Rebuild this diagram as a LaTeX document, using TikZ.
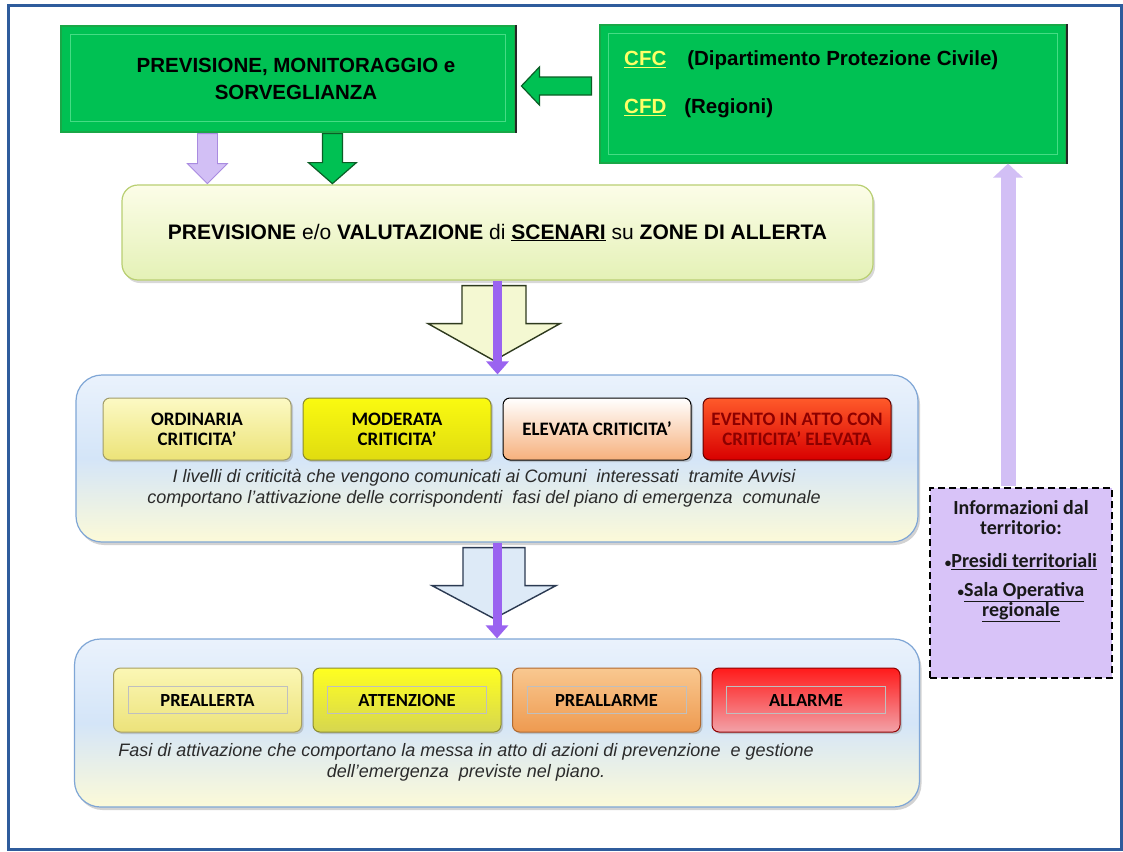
\documentclass[tikz,border=0pt]{standalone}
\usepackage{fontspec}
\setmainfont{Liberation Sans}
\newfontfamily\calib{Carlito}
\usepackage{tikz}
\usetikzlibrary{arrows.meta,positioning,calc,shadows}
\definecolor{frameblue}{HTML}{2F5C9C}
\definecolor{boxgreen}{HTML}{00C153}
\definecolor{boxgreenrim}{HTML}{19A847}
\definecolor{bevelgreen}{HTML}{45DC84}
\definecolor{darkgreen}{HTML}{0B5E26}
\definecolor{lilac}{HTML}{D2BFF5}
\definecolor{lilacdark}{HTML}{A98BE0}
\definecolor{flowpurple}{HTML}{9A63F0}
\definecolor{cfcyellow}{HTML}{FFFF66}
\definecolor{panelrim}{HTML}{7FA6D6}
\definecolor{paneltop}{HTML}{EAF2FC}
\definecolor{panelmid}{HTML}{D4E5F8}
\definecolor{panelbot}{HTML}{FCFAD8}
\definecolor{scenrim}{HTML}{B9CF72}
\definecolor{scentop}{HTML}{FCFDE8}
\definecolor{scenbot}{HTML}{E4F1B6}
\definecolor{infolilac}{HTML}{D8C3F8}
\definecolor{notegrey}{HTML}{2B2B2B}
\definecolor{hollowfillA}{HTML}{F4F8D2}
\definecolor{hollowrimA}{HTML}{2E3A1E}
\definecolor{hollowfillB}{HTML}{DDEAF7}
\definecolor{hollowrimB}{HTML}{2B3A52}
\definecolor{ordtop}{HTML}{FCF9C4}
\definecolor{ordbot}{HTML}{ECE378}
\definecolor{ordrim}{HTML}{A09C6A}
\definecolor{modtop}{HTML}{FAFA10}
\definecolor{modbot}{HTML}{E0DC10}
\definecolor{modrim}{HTML}{8A8A30}
\definecolor{elebot}{HTML}{F6B07C}
\definecolor{evetop}{HTML}{FF5A2A}
\definecolor{evebot}{HTML}{D80000}
\definecolor{everim}{HTML}{600000}
\definecolor{evetext}{HTML}{8C0000}
\definecolor{pretop}{HTML}{FBF7B5}
\definecolor{prebot}{HTML}{ECE27A}
\definecolor{prerim}{HTML}{A8A060}
\definecolor{atttop}{HTML}{FFFF20}
\definecolor{attbot}{HTML}{D6D650}
\definecolor{attrim}{HTML}{8C8C30}
\definecolor{pamtop}{HTML}{F9C890}
\definecolor{pambot}{HTML}{EE9A50}
\definecolor{pamrim}{HTML}{B06A30}
\definecolor{alltop}{HTML}{FF1A1A}
\definecolor{allbot}{HTML}{F2A2A8}
\definecolor{allrim}{HTML}{900000}
\newcommand{\downblock}[6]{\draw[#1] ($(#2)+(-#3,0)$) -- ($(#2)+(-#3,#5-#6)$) -- ($(#2)+(-#4,#5-#6)$) -- ($(#2)+(0,#5)$) -- ($(#2)+(#4,#5-#6)$) -- ($(#2)+(#3,#5-#6)$) -- ($(#2)+(#3,0)$) -- cycle;}
\newcommand{\leftblock}[6]{\draw[#1] ($(#2)+(0,-#3)$) -- ($(#2)+(-#5+#6,-#3)$) -- ($(#2)+(-#5+#6,-#4)$) -- ($(#2)+(-#5,0)$) -- ($(#2)+(-#5+#6,#4)$) -- ($(#2)+(-#5+#6,#3)$) -- ($(#2)+(0,#3)$) -- cycle;}
\newcommand{\smallbullet}{{\fontsize{13}{13}\selectfont\textbullet}}
\tikzset{outerframe/.style={draw=frameblue,line width=3pt},greenbox/.style={fill=boxgreen,draw=boxgreenrim,line width=1.2pt,inner sep=0pt},bevel/.style={draw=bevelgreen,line width=1.5pt},rimshade/.style={draw=black!85,line width=2.2pt},headfont/.style={font=\bfseries\fontsize{20.5}{27}\selectfont,inner sep=0pt},cfcfont/.style={font=\bfseries\fontsize{20.5}{24}\selectfont,inner sep=0pt},scenbox/.style={rounded corners=16pt,draw=scenrim,line width=1.2pt,top color=scentop,bottom color=scenbot,drop shadow={shadow xshift=2pt,shadow yshift=-3pt,opacity=.3},font=\fontsize{21}{24}\selectfont},panelbox/.style={rounded corners=26pt,draw=panelrim,line width=1.2pt,top color=paneltop,bottom color=panelbot,middle color=panelmid,drop shadow={shadow xshift=2pt,shadow yshift=-3pt,opacity=.35}},critbox/.style={rounded corners=7pt,minimum width=188pt,minimum height=62pt,inner sep=2pt,align=center,line width=1pt,font=\calib\bfseries\fontsize{19}{20}\selectfont,drop shadow={shadow xshift=2pt,shadow yshift=-2pt,opacity=.35}},phasebox/.style={critbox,minimum height=64pt,font=\calib\bfseries\fontsize{18.5}{20}\selectfont},innerrim/.style={draw=black!25,line width=0.8pt},notefont/.style={font=\itshape\fontsize{18}{20.5}\selectfont,text=notegrey,inner sep=0pt},hollowyellow/.style={fill=hollowfillA,draw=hollowrimA,line width=1.4pt},hollowblue/.style={fill=hollowfillB,draw=hollowrimB,line width=1.4pt},lilacarrow/.style={fill=lilac,draw=lilacdark,line width=0.8pt},greenarrow/.style={fill=boxgreen,draw=darkgreen,line width=1.2pt},flowline/.style={draw=flowpurple,line width=9pt,-{Triangle[length=13pt,width=22pt]}},uparrow/.style={draw=lilac,line width=15pt,-{Triangle[length=14pt,width=29pt]}},infobox/.style={fill=infolilac,draw=black,line width=2.2pt,dash pattern=on 7pt off 4pt},infofont/.style={font=\calib\bfseries\fontsize{20}{20}\selectfont,text=black!90,inner sep=0pt}}
\begin{document}
\begin{tikzpicture}[x=1pt,y=-1pt]
\useasboundingbox (0,0) rectangle (1123,851);
\fill[white] (0,0) rectangle (1123,851);
\draw[outerframe] (8,6) rectangle (1121,849);
% top row
\node[greenbox,minimum width=454pt,minimum height=106pt] (prevbox) at (288,79) {};
\draw[bevel] ($(prevbox.north west)+(10,9)$) rectangle ($(prevbox.south east)+(-10,-11)$);
\draw[rimshade] (prevbox.north east) -- (prevbox.south east);
\node[headfont,align=center] (prevtext) at (296,78.5) {PREVISIONE, MONITORAGGIO e\\SORVEGLIANZA};
\node[greenbox,minimum width=466pt,minimum height=138pt] (centri) at (833,94) {};
\draw[bevel] ($(centri.north west)+(9,9)$) rectangle ($(centri.south east)+(-9,-9)$);
\draw[rimshade] (centri.north east) -- (centri.south east);
\node[cfcfont,anchor=west] (cfc) at (624,60) {\textcolor{cfcyellow}{\underline{CFC}}\hspace{21pt}(Dipartimento Protezione Civile)};
\node[cfcfont,anchor=west] (cfd) at (624,108) {\textcolor{cfcyellow}{\underline{CFD}}\hspace{18pt}(Regioni)};
\coordinate (backstart) at ($(centri.west)+(-8,-8)$);
\leftblock{greenarrow}{backstart}{9}{19}{70}{18}
% scenarios
\node[scenbox,minimum width=751pt,minimum height=95pt] (scenari) at (497.5,232.5) {\textbf{PREVISIONE} e/o \textbf{VALUTAZIONE} di \textbf{\underline{SCENARI}} su \textbf{ZONE DI ALLERTA}};
\coordinate (lilacstart) at ($(prevbox.south west)+(147,1)$);
\downblock{lilacarrow}{lilacstart}{10}{20}{50}{20}
\coordinate (greenstart) at ($(prevbox.south west)+(272,1)$);
\downblock{greenarrow}{greenstart}{10}{24}{50}{21}
% criticality levels
\node[panelbox,minimum width=842pt,minimum height=167pt] (livelli) at (497,458.5) {};
\node[critbox,top color=ordtop,bottom color=ordbot,draw=ordrim] (ordinaria) at (197,429) {ORDINARIA\\CRITICITA’};
\node[critbox,top color=modtop,bottom color=modbot,draw=modrim,right=11pt of ordinaria] (moderata) {MODERATA\\CRITICITA’};
\node[critbox,top color=white,bottom color=elebot,draw=black,right=11pt of moderata] (elevata) {ELEVATA CRITICITA’};
\node[critbox,top color=evetop,bottom color=evebot,draw=everim,text=evetext,right=11pt of elevata] (evento) {EVENTO IN ATTO CON\\CRITICITA’ ELEVATA};
\node[notefont,align=center] (livellinote) at (484,488) {I livelli di criticità che vengono comunicati ai Comuni\ \ interessati\ \ tramite Avvisi\\comportano l’attivazione delle corrispondenti\ \ fasi del piano di emergenza\ \ comunale};
\coordinate (hollowa) at ($(scenari.south)+(-3.5,5)$);
\downblock{hollowyellow}{hollowa}{32}{66}{75}{37}
\draw[flowline] (scenari.south) -- (scenari.south |- livelli.north);
% activation phases
\node[panelbox,minimum width=845pt,minimum height=168pt] (fasi) at (497,723) {};
\node[phasebox,top color=pretop,bottom color=prebot,draw=prerim] (preallerta) at (207.5,700) {PREALLERTA};
\node[phasebox,top color=atttop,bottom color=attbot,draw=attrim,right=10.5pt of preallerta] (attenzione) {ATTENZIONE};
\node[phasebox,top color=pamtop,bottom color=pambot,draw=pamrim,right=10.5pt of attenzione] (preallarme) {PREALLARME};
\node[phasebox,top color=alltop,bottom color=allbot,draw=allrim,right=10.5pt of preallarme] (allarme) {ALLARME};
\draw[innerrim] ($(preallerta.north west)+(15,19)$) rectangle ($(preallerta.south east)+(-15,-19)$);
\draw[innerrim] ($(attenzione.north west)+(15,19)$) rectangle ($(attenzione.south east)+(-15,-19)$);
\draw[innerrim] ($(preallarme.north west)+(15,19)$) rectangle ($(preallarme.south east)+(-15,-19)$);
\draw[innerrim] ($(allarme.north west)+(15,19)$) rectangle ($(allarme.south east)+(-15,-19)$);
\node[notefont,align=center,font=\itshape\fontsize{18}{21}\selectfont] (fasinote) at (466,762.5) {Fasi di attivazione che comportano la messa in atto di azioni di prevenzione\ \ e gestione\\dell’emergenza\ \ previste nel piano.};
\coordinate (hollowb) at ($(livelli.south)+(-3,5)$);
\downblock{hollowblue}{hollowb}{31}{62}{71}{33}
\draw[flowline] (livelli.south) -- (livelli.south |- fasi.north);
% information from the territory
\node[infobox,minimum width=182pt,minimum height=190pt] (info) at (1021,583) {};
\node[infofont,align=center] (infotext) at (1021,561) {Informazioni dal\\territorio:\\[13pt]\smallbullet\underline{Presidi territoriali}\\[9pt]\smallbullet\underline{Sala Operativa}\\\underline{regionale}};
\coordinate (infotop) at ($(info.north)+(-13,-1)$);
\draw[uparrow] (infotop) -- (infotop |- centri.south);
\end{tikzpicture}
\end{document}
